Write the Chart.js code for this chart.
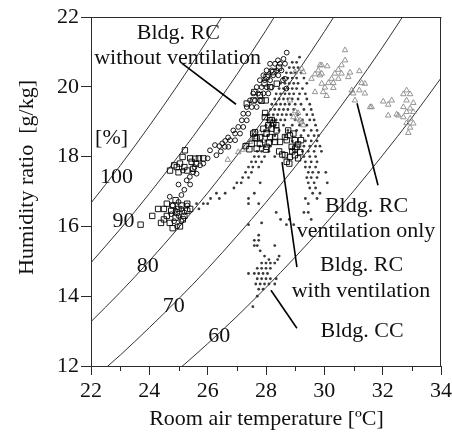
<!DOCTYPE html>
<html><head><meta charset="utf-8">
<script src="https://cdn.jsdelivr.net/npm/chart.js@4.4.1/dist/chart.umd.min.js"></script>
<style>html,body{margin:0;padding:0;background:#fff;}</style>
</head><body>
<canvas id="c" width="452" height="437"></canvas>
<script>
// ---- Axis settings / tick labels ----
const xTicks = [22, 24, 26, 28, 30, 32, 34];
const xMinorTicks = [23, 25, 27, 29, 31, 33];
const yTicks = [12, 14, 16, 18, 20, 22];

// ---- Relative humidity curves [%] ----
const rh100 = [[22,16.67],[23,17.74],[24,18.88],[25,20.08],[26,21.35],[27,22.70]];
const rh90 = [[22,14.96],[23,15.92],[24,16.94],[25,18.02],[26,19.15],[27,20.35],[28,21.62],[29,22.96]];
const rh80 = [[22,13.27],[23,14.11],[24,15.01],[25,15.96],[26,16.96],[27,18.03],[28,19.15],[29,20.33],[30,21.58],[31,22.89]];
const rh70 = [[22,11.58],[23,12.31],[24,13.10],[25,13.92],[26,14.79],[27,15.72],[28,16.69],[29,17.71],[30,18.80],[31,19.94],[32,21.14],[33,22.41]];
const rh60 = [[24,11.19],[25,11.90],[26,12.64],[27,13.42],[28,14.25],[29,15.12],[30,16.04],[31,17.01],[32,18.04],[33,19.11],[34,20.25]];

// ---- Measured points ----
const rcWithoutVent = [
 [24.7,16.85],[24.8,16.6],[24.9,16.45],[25.0,16.3],[24.85,16.15],[25.1,16.5],[25.0,16.7],[25.2,16.4],[24.95,16.0],[25.1,16.15],[24.75,16.35],[25.3,16.6],
 [25.28,17.32],[25.39,17.42],[25.5,17.55],[25.62,17.51],[25.74,17.75],[25.55,17.7],[25.1,16.9],[25.2,17.05],[25.0,17.2],[25.15,17.6],[25.4,17.2],
 [25.85,17.8],[26.0,17.95],[26.08,18.18],[26.25,18.33],[26.3,18.04],[26.4,18.3],[26.5,18.38],[26.6,18.45],[26.45,18.15],[26.7,18.55],[26.77,18.47],
 [26.94,18.66],[26.88,18.75],[27.05,18.85],[27.11,18.66],[27.22,18.85],[27.17,19.04],[27.34,19.04],[27.22,19.23],[27.39,19.23],[27.34,19.42],
 [27.51,19.42],[27.45,19.61],[27.62,19.61],[27.56,19.81],[27.73,19.81],[27.68,19.99],[27.85,19.99],[27.79,20.19],[27.96,20.19],[28.14,20.19],
 [28.58,20.19],[27.91,20.33],[28.08,20.33],[28.25,20.33],[28.42,20.33],[28.02,20.47],[28.19,20.47],[28.36,20.47],[28.53,20.47],[28.14,20.66],
 [28.31,20.66],[28.48,20.66],[28.65,20.66],[28.6,20.8],[28.71,20.98],[28.41,20.76],[27.68,19.42],[27.79,19.61],[27.91,19.81],[28.02,19.99],
 [28.08,19.81],[28.19,19.99],[26.59,18.28],[26.71,18.28],[26.94,18.47],[28.7,19.95],[28.65,20.23]
];
const rcWithVent = [
 [23.7,16.05],[24.1,16.3],[24.3,16.5],[24.5,16.5],[24.4,16.1],[24.6,16.3],[24.7,16.1],[24.8,15.95],[24.8,16.6],[24.9,16.75],[25.0,16.5],[25.1,16.6],
 [25.3,16.65],[25.4,16.5],[25.2,16.3],[24.9,16.25],[25.05,16.0],[24.6,16.65],[24.75,16.45],[25.15,16.2],[24.5,16.2],[25.3,16.45],[24.95,16.4],
 [24.71,17.6],[24.85,17.75],[24.94,17.7],[25.05,17.8],[25.14,17.99],[25.22,18.18],[25.2,17.7],[25.0,17.55],[25.4,17.95],[25.57,17.94],[25.7,17.95],
 [25.85,17.95],[25.6,17.8],[25.5,17.65],[25.45,17.85],[25.3,17.6],
 [27.96,19.13],[28.14,19.04],[28.25,18.95],[28.08,18.9],[27.91,18.8],[28.19,18.8],[28.36,18.75],[28.02,18.66],[28.14,18.56],[28.31,18.56],[27.56,18.66],
 [27.68,18.52],[27.51,18.37],[27.79,18.37],[27.68,18.23],[28.02,18.28],[28.31,18.42],[28.48,18.42],[28.76,18.75],[28.82,18.61],[28.99,18.47],[28.71,18.47],
 [28.88,18.28],[29.05,18.28],[29.17,18.13],[28.65,18.04],[28.82,17.99],[28.99,18.04],[28.71,17.85],[27.43,18.21],[27.62,18.54],[27.97,19.25],[28.0,18.2],
 [28.2,19.05],[28.35,18.9],[28.56,18.06],[28.8,17.8],[29.0,18.23],[29.2,18.47],[28.94,18.66],[28.65,18.56],[27.62,18.7],[27.3,18.3],[28.1,18.4],
 [29.1,18.35],[28.9,18.15],[29.1,17.95],[28.45,18.15],[27.8,18.55],
 [27.34,19.52],[27.57,19.61],[27.79,19.76],[27.99,19.61],[28.14,19.99],[28.37,20.09],[28.02,20.28],[28.25,20.42],[27.6,19.85],[27.95,20.1],[28.45,20.55],[27.85,19.6]
];
const rcVentOnly = [
 [26.69,17.91],[27.05,18.13],[27.28,18.32],[27.45,18.42],[27.66,18.56],[27.79,18.68],[28.02,18.75],[27.2,18.2],[27.9,18.45],
 [28.94,19.13],[29.05,19.09],[29.22,18.99],[29.17,19.04],[29.28,18.9],[29.1,19.25],[28.82,19.61],[29.0,19.3],
 [28.99,20.42],[29.22,20.52],[29.28,20.42],[30.71,21.05],[30.71,20.76],[29.91,20.62],[30.1,20.59],[30.59,20.62],[29.79,20.47],[30.48,20.49],
 [29.68,20.36],[29.91,20.38],[30.36,20.38],[30.59,20.38],[30.88,20.41],[31.2,20.45],[29.56,20.23],[30.25,20.23],[30.48,20.23],[30.82,20.28],
 [29.91,20.09],[30.14,20.11],[30.31,20.11],[31.28,20.11],[30.02,19.98],[30.31,19.97],[30.94,19.9],[31.2,19.9],[31.39,20.09],[29.96,19.85],
 [30.99,19.81],[31.39,19.81],[30.08,19.74],[31.05,19.61],[31.62,19.42],[29.85,20.62],[29.85,20.33],[29.68,19.85],
 [32.82,19.9],[32.71,19.79],[32.94,19.79],[32.02,19.58],[32.31,19.61],[32.19,19.49],[32.82,19.61],[33.05,19.54],[32.71,19.42],[32.94,19.38],
 [32.82,19.28],[33.05,19.28],[32.19,19.18],[32.48,19.21],[32.71,19.13],[32.94,19.09],[32.82,18.96],[33.05,18.95],[32.94,18.83],[32.88,18.68],
 [31.57,19.42],[32.54,19.18]
];
const bldgCC = [
 [29.15,20.85],
 [28.9,20.7],[29.05,20.7],
 [28.8,20.55],[28.95,20.55],[29.1,20.55],
 [28.7,20.4],[28.85,20.4],[29.0,20.4],[29.2,20.4],
 [28.6,20.25],[28.75,20.25],[28.9,20.25],[29.05,20.25],[29.3,20.25],
 [28.5,20.1],[28.65,20.1],[28.8,20.1],[28.95,20.1],[29.1,20.1],[29.4,20.1],
 [28.45,19.95],[28.6,19.95],[28.75,19.95],[28.9,19.95],[29.05,19.95],[29.25,19.95],
 [28.35,19.8],[28.5,19.8],[28.65,19.8],[28.8,19.8],[28.95,19.8],[29.15,19.8],[29.35,19.8],
 [28.3,19.65],[28.45,19.65],[28.6,19.65],[28.75,19.65],[28.9,19.65],[29.1,19.65],[29.4,19.65],
 [28.2,19.5],[28.35,19.5],[28.5,19.5],[28.65,19.5],[28.8,19.5],[29.0,19.5],[29.2,19.5],[29.5,19.5],
 [28.15,19.35],[28.3,19.35],[28.45,19.35],[28.6,19.35],[28.75,19.35],[28.95,19.35],[29.3,19.35],[29.55,19.35],
 [28.1,19.2],[28.25,19.2],[28.4,19.2],[28.55,19.2],[28.7,19.2],[28.85,19.2],[29.1,19.2],[29.4,19.2],[29.6,19.2],
 [28.05,19.05],[28.2,19.05],[28.35,19.05],[28.5,19.05],[28.65,19.05],[29.0,19.05],[29.25,19.05],[29.5,19.05],[29.65,19.05],
 [28.0,18.9],[28.15,18.9],[28.3,18.9],[28.6,18.9],[28.9,18.9],[29.15,18.9],[29.4,18.9],[29.7,18.9],
 [27.95,18.75],[28.1,18.75],[28.45,18.75],[28.75,18.75],[29.05,18.75],[29.3,18.75],[29.55,18.75],[29.75,18.75],
 [27.9,18.6],[28.05,18.6],[28.3,18.6],[28.65,18.6],[29.2,18.6],[29.45,18.6],[29.65,18.6],[29.8,18.6],
 [27.85,18.45],[28.0,18.45],[28.2,18.45],[28.9,18.45],[29.35,18.45],[29.55,18.45],[29.75,18.45],
 [27.8,18.3],[27.95,18.3],[28.15,18.3],[29.3,18.3],[29.5,18.3],[29.7,18.3],[29.85,18.3],
 [27.7,18.15],[27.85,18.15],[28.1,18.15],[29.25,18.15],[29.45,18.15],[29.65,18.15],[29.9,18.15],
 [27.6,18.0],[27.75,18.0],[27.95,18.0],[28.3,18.0],[29.3,18.0],[29.5,18.0],[29.7,18.0],
 [27.5,17.85],[27.65,17.85],[27.85,17.85],[29.35,17.85],[29.55,17.85],[29.75,17.85],
 [27.4,17.7],[27.55,17.7],[27.75,17.7],[29.35,17.7],[29.5,17.7],[29.7,17.7],
 [27.3,17.55],[27.5,17.55],[29.45,17.55],[29.6,17.55],[29.8,17.55],[30.05,17.55],
 [27.2,17.4],[27.4,17.4],[29.4,17.4],[29.55,17.4],[29.75,17.4],
 [27.0,17.25],[27.15,17.25],[27.8,17.25],[29.45,17.25],[29.65,17.25],[30.1,17.25],
 [26.9,17.1],[29.5,17.1],[29.7,17.1],
 [26.3,16.95],[26.6,16.95],[27.6,16.95],[29.6,16.95],[29.85,16.95],
 [26.1,16.8],[26.4,16.8],[27.4,16.8],[29.35,16.8],[29.75,16.8],
 [25.85,16.65],[26.0,16.65],[27.4,16.65],[27.75,16.65],[29.45,16.65],[25.62,16.65],
 [25.7,16.5],
 [28.35,16.4],[29.3,16.4],[29.45,16.4],
 [28.5,16.2],[28.8,16.2],[29.55,16.2],
 [27.4,16.05],[28.7,16.05],[28.95,16.05],[27.85,16.1],
 [27.75,15.75],
 [27.6,15.6],[27.75,15.6],
 [27.6,15.45],[27.7,15.45],[28.3,15.45],
 [27.8,15.3],
 [27.95,15.15],[28.45,15.15],
 [28.1,15.05],[28.4,15.05],
 [27.85,14.95],[28.0,14.95],[28.15,14.95],[28.3,14.95],
 [27.7,14.8],[27.85,14.8],[28.0,14.8],[28.15,14.8],
 [27.4,14.65],[27.6,14.65],[27.75,14.65],[27.9,14.65],[28.05,14.65],
 [27.7,14.5],[27.85,14.5],[28.0,14.5],[28.15,14.5],[28.35,14.5],
 [27.65,14.35],[27.8,14.35],[27.95,14.35],[28.1,14.35],[28.3,14.35],
 [27.75,14.2],[27.9,14.2],
 [27.7,14.0],
 [27.55,13.7]
];

// ---- Annotation texts (anchor in data units: left, baseline) ----
const labels = [
 {t:'Bldg. RC', x:23.57, y:21.375},
 {t:'without ventilation', x:22.11, y:20.665},
 {t:'[%]', x:22.14, y:18.37},
 {t:'100', x:22.31, y:17.235},
 {t:'90', x:22.74, y:15.97},
 {t:'80', x:23.57, y:14.685},
 {t:'70', x:24.46, y:13.54},
 {t:'60', x:26.02, y:12.68},
 {t:'Bldg. RC', x:30.02, y:16.40},
 {t:'ventilation only', x:29.05, y:15.69},
 {t:'Bldg. RC', x:29.85, y:14.71},
 {t:'with ventilation', x:28.88, y:13.97},
 {t:'Bldg. CC', x:29.87, y:12.82}
];
const leaders = [
 [[25.12,20.67],[26.97,19.5]],
 [[31.12,19.53],[31.84,17.18]],
 [[28.55,17.84],[29.06,14.83]],
 [[28.17,14.17],[29.06,13.08]]
];

const FONT = "'Liberation Serif','Times New Roman',serif";
const AX = '#2b2b2b';

function curve(d){return {type:'scatter', data:d.map(p=>({x:p[0],y:p[1]})), showLine:true, borderColor:'#333', borderWidth:1, pointRadius:0, cubicInterpolationMode:'monotone', fill:false};}
function pts(d){return d.map(p=>({x:p[0],y:p[1]}));}

const overlay = {
 id:'overlay',
 afterDraw(chart){
  const {ctx, chartArea:a, scales:{x, y}} = chart;
  ctx.save();
  ctx.strokeStyle = AX; ctx.lineWidth = 1;
  ctx.beginPath();
  ctx.moveTo(a.left, a.top+0.5); ctx.lineTo(a.right+0.5, a.top+0.5);
  ctx.moveTo(a.right-0.5, a.top); ctx.lineTo(a.right-0.5, a.bottom);
  xMinorTicks.forEach(v=>{const px=Math.round(x.getPixelForValue(v))+0.5; ctx.moveTo(px,a.bottom); ctx.lineTo(px,a.bottom+5);});
  ctx.stroke();
  // leader lines
  ctx.strokeStyle = '#000'; ctx.lineWidth = 1.6;
  leaders.forEach(l=>{ctx.beginPath(); ctx.moveTo(x.getPixelForValue(l[0][0]), y.getPixelForValue(l[0][1])); ctx.lineTo(x.getPixelForValue(l[1][0]), y.getPixelForValue(l[1][1])); ctx.stroke();});
  // texts
  ctx.fillStyle = '#111'; ctx.font = '22px '+FONT; ctx.textAlign='left'; ctx.textBaseline='alphabetic';
  labels.forEach(l=>ctx.fillText(l.t, x.getPixelForValue(l.x), y.getPixelForValue(l.y)));
  // axis titles
  ctx.textAlign='center';
  ctx.fillText('Room air temperature [ºC]', 266.5, 425);
  ctx.translate(33, 177.5); ctx.rotate(-Math.PI/2);
  ctx.fillText('Humidity ratio  [g/kg]', 0, 0);
  ctx.restore();
 }
};

new Chart(document.getElementById('c'), {
 type:'scatter',
 data:{datasets:[
  {data:pts(rcWithoutVent), pointStyle:'circle', pointRadius:2.4, borderColor:'#000', backgroundColor:'rgba(0,0,0,0)', borderWidth:0.9},
  {data:pts(rcWithVent), pointStyle:'rect', pointRadius:3.8, borderColor:'#000', backgroundColor:'rgba(0,0,0,0)', borderWidth:0.9},
  {data:pts(rcVentOnly), pointStyle:'triangle', pointRadius:3.2, borderColor:'#8a8a8a', backgroundColor:'rgba(0,0,0,0)', borderWidth:0.9},
  {data:pts(bldgCC), pointStyle:'circle', pointRadius:1.4, borderColor:'#3a3a3a', backgroundColor:'#3a3a3a', borderWidth:0},
  curve(rh100), curve(rh90), curve(rh80), curve(rh70), curve(rh60)
 ]},
 options:{
  responsive:false, animation:false, devicePixelRatio:1,
  layout:{padding:{top:17, right:11, left:0, bottom:0}},
  plugins:{legend:{display:false}, tooltip:{enabled:false}},
  events:[],
  scales:{
   x:{type:'linear', min:22, max:34,
      afterBuildTicks(s){s.ticks = xTicks.map(v=>({value:v}));},
      ticks:{font:{family:FONT,size:22}, color:'#111', padding:3, maxRotation:0, autoSkip:false},
      grid:{drawOnChartArea:false, tickLength:9, color:AX},
      border:{color:AX},
      afterFit(s){s.height = 71; s.paddingLeft = 0; s.paddingRight = 0;}},
   y:{type:'linear', min:12, max:22,
      afterBuildTicks(s){s.ticks = yTicks.map(v=>({value:v}));},
      ticks:{font:{family:FONT,size:22}, color:'#111', padding:2, autoSkip:false},
      grid:{drawOnChartArea:false, tickLength:10, color:AX},
      border:{color:AX},
      afterFit(s){s.width = 91; s.paddingTop = 0; s.paddingBottom = 0;}}
  }
 },
 plugins:[overlay]
});
</script>
</body></html>
